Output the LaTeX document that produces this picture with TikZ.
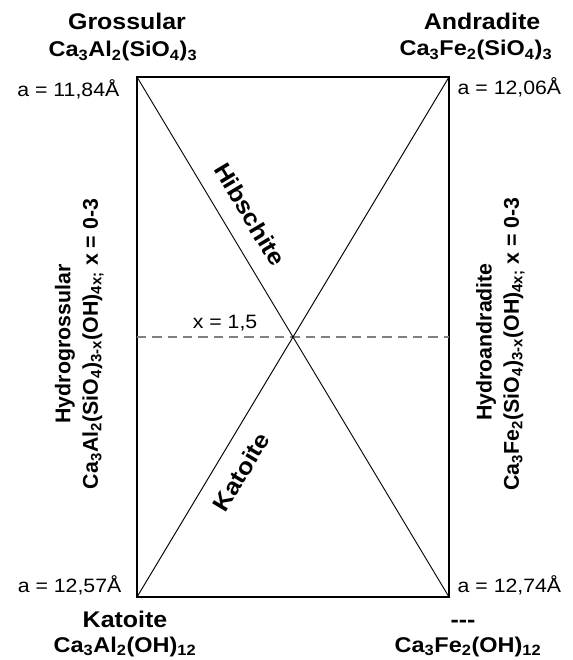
\documentclass[tikz,border=0pt]{standalone}
\usepackage{fontspec}
\setmainfont[FakeStretch=1.1]{Liberation Sans}
\newfontfamily\uprightsans{Liberation Sans}
\usetikzlibrary{calc, positioning}

\tikzset{
  frame/.style={line width=1.1pt},
  diag/.style={line width=0.7pt},
  midline/.style={gray, line width=0.8pt, dash pattern=on 7pt off 4.5pt},
  mineral/.style={font=\fontsize{16}{19}\selectfont\bfseries},
  endname/.style={font=\fontsize{17}{20}\selectfont\bfseries},
  series/.style={font=\uprightsans\fontsize{16}{19}\selectfont\bfseries, rotate=90},
  branch/.style={font=\fontsize{17.5}{20}\selectfont\bfseries},
  latt/.style={font=\fontsize{14.5}{17}\selectfont},
}
\newcommand{\chsub}[1]{\textsubscript{#1}}

\begin{document}
\begin{tikzpicture}[x=0.75pt, y=-0.75pt]
\useasboundingbox (0,0) rectangle (573,660);

% corners of the solid solution field
\coordinate (gro) at (137,77);
\coordinate (and) at (449,77);
\coordinate (kat) at (137,597);
\coordinate (fe)  at (449,597);
\coordinate (ml) at ($(gro)!0.5!(kat)$);
\coordinate (mr) at ($(and)!0.5!(fe)$);

\draw[frame] (gro) rectangle (fe);
\draw[midline] (ml) -- (mr);
\draw[diag] (gro) -- (fe)
  node[pos=0.29, sloped, above=9.5pt, branch] (hib) {Hibschite};
\draw[diag] (kat) -- (and)
  node[pos=0.265, sloped, below=8.5pt, branch] (katd) {Katoite};

\node[latt, anchor=base east] (xmid) at (262,328) {x = 1,5};

% end members
\node[endname, anchor=base] (groname) at (127,30) {Grossular};
\node[mineral, anchor=base] (groform) at (123,57)
  {Ca\chsub{3}Al\chsub{2}(SiO\chsub{4})\chsub{3}};
\node[endname, anchor=base] (andname) at (482,30) {Andradite};
\node[mineral, anchor=base] (andform) at (476,56)
  {Ca\chsub{3}Fe\chsub{2}(SiO\chsub{4})\chsub{3}};
\node[endname, anchor=base] (katname) at (125,627) {Katoite};
\node[mineral, anchor=base] (katform) at (125,652)
  {Ca\chsub{3}Al\chsub{2}(OH)\chsub{12}};
\node[endname, anchor=base] (fename) at (463,627) {-{}-{}-};
\node[mineral, anchor=base] (feform) at (468,652)
  {Ca\chsub{3}Fe\chsub{2}(OH)\chsub{12}};

% lattice constants
\node[latt, anchor=base east] (agro) at (124,97) {a = 11,84Å};
\node[latt, anchor=base west] (aand) at (453,94) {a = 12,06Å};
\node[latt, anchor=base east] (akat) at (126,592) {a = 12,57Å};
\node[latt, anchor=base west] (afe)  at (453,592) {a = 12,74Å};

% hydrogarnet series
\node[series] (hgro) at (65,344) {Hydrogrossular};
\node[series] (hgroform) at (93,344)
  {Ca\chsub{3}Al\chsub{2}(SiO\chsub{4})\chsub{3-x}(OH)\chsub{4x;} x = 0-3};
\node[series] (hand) at (486,342) {Hydroandradite};
\node[series] (handform) at (514,344)
  {Ca\chsub{3}Fe\chsub{2}(SiO\chsub{4})\chsub{3-x}(OH)\chsub{4x;} x = 0-3};
\end{tikzpicture}
\end{document}
